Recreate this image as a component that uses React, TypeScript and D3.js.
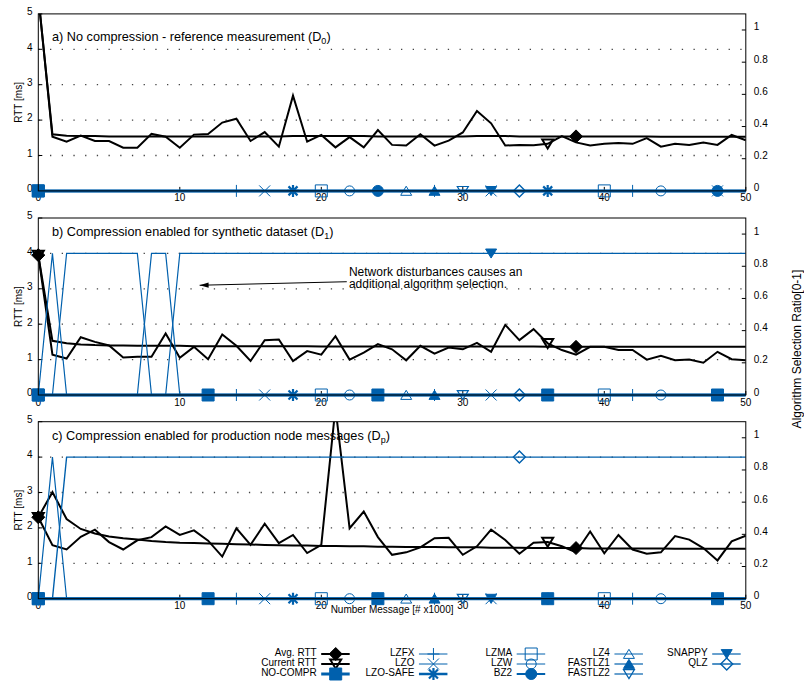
import React, { useEffect, useRef } from "react";
import * as d3 from "d3";

// x axis: number of messages (# x1000), one sample per 1000 messages
const messages = d3.range(0, 51);
const xTicks = [0, 10, 20, 30, 40, 50];
const rttTicks = [0, 1, 2, 3, 4, 5];
const rttGrid = [1, 2, 3, 4];
const ratioTicks = [0, 0.2, 0.4, 0.6, 0.8, 1];
const ratioTickLabels = ["0", "0.2", "0.4", "0.6", "0.8", "1"];

const panelTitles = [
  "a) No compression - reference measurement (D",
  "b) Compression enabled for synthetic dataset (D",
  "c) Compression enabled for production node messages (D",
];
const panelSubs = ["0", "1", "p"];

// RTT [ms], panel a (D0)
const currentRttA = [
  5.5, 1.53, 1.39, 1.56, 1.41, 1.41, 1.22, 1.22, 1.61, 1.53,
  1.22, 1.59, 1.61, 1.93, 2.04, 1.41, 1.66, 1.25, 2.69, 1.39,
  1.58, 1.23, 1.52, 1.23, 1.72, 1.30, 1.28, 1.60, 1.28, 1.42,
  1.65, 2.26, 1.91, 1.28, 1.30, 1.29, 1.33, 1.55, 1.37, 1.28,
  1.33, 1.35, 1.33, 1.49, 1.25, 1.33, 1.30, 1.37, 1.30, 1.58,
  1.43,
];
const avgRttA = [
  5.5, 1.60, 1.56, 1.55, 1.55, 1.54, 1.54, 1.54, 1.54, 1.54,
  1.54, 1.54, 1.54, 1.54, 1.54, 1.54, 1.54, 1.54, 1.55, 1.55,
  1.55, 1.55, 1.55, 1.55, 1.54, 1.54, 1.54, 1.54, 1.54, 1.54,
  1.54, 1.55, 1.55, 1.55, 1.54, 1.54, 1.54, 1.54, 1.54, 1.54,
  1.54, 1.54, 1.54, 1.54, 1.53, 1.53, 1.53, 1.53, 1.53, 1.53,
  1.53,
];

// panel b (D1)
const currentRttB = [
  3.95, 1.14, 1.03, 1.63, 1.50, 1.40, 1.06, 1.08, 1.08, 1.74,
  1.05, 1.36, 1.01, 1.71, 1.39, 0.96, 1.55, 1.57, 0.96, 1.24,
  1.14, 1.66, 1.00, 1.20, 1.44, 1.29, 0.98, 1.39, 1.17, 1.34,
  1.29, 1.47, 1.22, 1.98, 1.55, 1.86, 1.46, 1.27, 1.14, 1.36,
  1.36, 1.27, 1.27, 1.00, 1.11, 0.98, 1.00, 0.91, 1.22, 1.01,
  0.98,
];
const avgRttB = [
  3.95, 1.53, 1.46, 1.43, 1.41, 1.40, 1.40, 1.39, 1.39, 1.39,
  1.39, 1.38, 1.38, 1.38, 1.38, 1.38, 1.38, 1.38, 1.38, 1.38,
  1.37, 1.37, 1.37, 1.37, 1.37, 1.37, 1.37, 1.37, 1.37, 1.37,
  1.37, 1.37, 1.37, 1.37, 1.37, 1.37, 1.36, 1.36, 1.36, 1.36,
  1.36, 1.36, 1.36, 1.36, 1.36, 1.36, 1.36, 1.36, 1.36, 1.36,
  1.36,
];

// panel c (Dp)
const currentRttC = [
  2.30, 1.51, 1.39, 1.75, 1.95, 1.60, 1.39, 1.65, 1.74, 2.04,
  1.80, 1.93, 1.64, 1.19, 1.99, 1.52, 2.12, 1.57, 1.80, 1.29,
  1.52, 5.40, 1.99, 2.46, 1.74, 1.24, 1.31, 1.45, 1.71, 1.72,
  1.24, 1.48, 1.95, 1.66, 1.27, 1.58, 1.60, 1.48, 1.31, 1.90,
  1.28, 1.80, 1.39, 1.27, 1.31, 1.77, 1.67, 1.43, 1.08, 1.62,
  1.78,
];
const avgRttC = [
  2.30, 3.01, 2.25, 1.97, 1.84, 1.76, 1.71, 1.67, 1.63, 1.60,
  1.58, 1.57, 1.56, 1.55, 1.54, 1.53, 1.52, 1.51, 1.50, 1.50,
  1.49, 1.49, 1.48, 1.48, 1.47, 1.47, 1.46, 1.46, 1.46, 1.45,
  1.45, 1.45, 1.44, 1.44, 1.44, 1.43, 1.43, 1.43, 1.43, 1.42,
  1.42, 1.42, 1.42, 1.42, 1.42, 1.41, 1.41, 1.41, 1.41, 1.41,
  1.41,
];

// algorithm selection ratio (right axis)
const algoNames = ["NO-COMPR", "LZFX", "LZO", "LZO-SAFE", "LZMA", "LZW", "BZ2", "LZ4", "FASTLZ1", "FASTLZ2", "SNAPPY", "QLZ"];
const algoPoints = ["squareFilled", "plus", "cross", "star", "square", "circle", "circleFilled", "triangle", "triangleFilled", "triangleDown", "triangleDownFilled", "diamond"];
const algoIntervals = [12, 14, 16, 18, 20, 22, 24, 26, 28, 30, 32, 34];
const idleRatio = 0;

const snappyB = [
  0, 0, 0.88, 0.88, 0.88, 0.88, 0.88, 0.88, 0, 0,
  0.88, 0.88, 0.88, 0.88, 0.88, 0.88, 0.88, 0.88, 0.88, 0.88,
  0.88, 0.88, 0.88, 0.88, 0.88, 0.88, 0.88, 0.88, 0.88, 0.88,
  0.88, 0.88, 0.88, 0.88, 0.88, 0.88, 0.88, 0.88, 0.88, 0.88,
  0.88, 0.88, 0.88, 0.88, 0.88, 0.88, 0.88, 0.88, 0.88, 0.88,
  0.88,
];
const fastlz1B = [
  0, 0.88, 0, 0, 0, 0, 0, 0, 0.88, 0.88,
  0, 0, 0, 0, 0, 0, 0, 0, 0, 0,
  0, 0, 0, 0, 0, 0, 0, 0, 0, 0,
  0, 0, 0, 0, 0, 0, 0, 0, 0, 0,
  0, 0, 0, 0, 0, 0, 0, 0, 0, 0,
  0,
];
const qlzC = [
  0, 0, 0.88, 0.88, 0.88, 0.88, 0.88, 0.88, 0.88, 0.88,
  0.88, 0.88, 0.88, 0.88, 0.88, 0.88, 0.88, 0.88, 0.88, 0.88,
  0.88, 0.88, 0.88, 0.88, 0.88, 0.88, 0.88, 0.88, 0.88, 0.88,
  0.88, 0.88, 0.88, 0.88, 0.88, 0.88, 0.88, 0.88, 0.88, 0.88,
  0.88, 0.88, 0.88, 0.88, 0.88, 0.88, 0.88, 0.88, 0.88, 0.88,
  0.88,
];
const fastlz1C = [
  0, 0.88, 0, 0, 0, 0, 0, 0, 0, 0,
  0, 0, 0, 0, 0, 0, 0, 0, 0, 0,
  0, 0, 0, 0, 0, 0, 0, 0, 0, 0,
  0, 0, 0, 0, 0, 0, 0, 0, 0, 0,
  0, 0, 0, 0, 0, 0, 0, 0, 0, 0,
  0,
];

const legendLabels = ["Avg. RTT", "Current RTT", ...algoNames];

const annotationLines = ["Network disturbances causes an", "additional algorithm selection."];

const BLUE = "#0060ad";
const FONT = "'Liberation Sans', Arial, Helvetica, sans-serif";

const algoWidths = [3, 1, 1, 2.5, 1, 1, 2, 1, 1.2, 1.2, 1.2, 1.4];

function symbolPath(kind: string, s: number): string {
  if (kind === "plus") return `M${-s},0H${s}M0,${-s}V${s}`;
  if (kind === "cross") return `M${-s},${-s}L${s},${s}M${-s},${s}L${s},${-s}`;
  if (kind === "star") {
    const k = s * 0.75;
    return `M${-s},0H${s}M0,${-s}V${s}M${-k},${-k}L${k},${k}M${-k},${k}L${k},${-k}`;
  }
  if (kind.startsWith("square")) return `M${-s},${-s}H${s}V${s}H${-s}Z`;
  if (kind.startsWith("circle")) return `M${s},0A${s},${s} 0 1,1 ${-s},0A${s},${s} 0 1,1 ${s},0Z`;
  if (kind.startsWith("triangleDown")) return `M0,${s * 0.85}L${s},${-s * 0.8}L${-s},${-s * 0.8}Z`;
  if (kind.startsWith("triangle")) return `M0,${-s * 0.85}L${s},${s * 0.8}L${-s},${s * 0.8}Z`;
  return `M0,${-s}L${s},0L0,${s}L${-s},0Z`; // diamond
}

const symbolSize: Record<string, number> = {
  plus: 6, cross: 5.5, star: 6, square: 6, squareFilled: 6, circle: 5, circleFilled: 5.5,
  triangle: 5.5, triangleFilled: 5.5, triangleDown: 5.5, triangleDownFilled: 5.5,
  diamond: 6, diamondFilled: 6.5,
};

function drawSymbol(g: any, kind: string, cx: number, cy: number, color: string, width: number) {
  const filled = kind.endsWith("Filled");
  g.append("path")
    .attr("d", symbolPath(kind, symbolSize[kind]))
    .attr("transform", `translate(${cx},${cy})`)
    .attr("fill", filled ? color : "none")
    .attr("stroke", color)
    .attr("stroke-width", filled ? 1 : Math.min(width, 2.2));
}

export default function App() {
  const ref = useRef<SVGSVGElement>(null);

  useEffect(() => {
    const svg = d3.select(ref.current);
    svg.selectAll("*").remove();

    const left = 38.3, right = 745.8, ph = 177;
    const panelTops = [13.9, 218, 421.7];
    const titleOffsets = [27, 18, 18.5];

    const x = d3.scaleLinear().domain([0, 50]).range([left, right]);

    const panels = [
      { current: currentRttA, avg: avgRttA, ratios: {} as Record<string, number[]>, noComprInterval: 1000 },
      { current: currentRttB, avg: avgRttB, ratios: { SNAPPY: snappyB, FASTLZ1: fastlz1B } as Record<string, number[]>, noComprInterval: 12 },
      { current: currentRttC, avg: avgRttC, ratios: { QLZ: qlzC, FASTLZ1: fastlz1C } as Record<string, number[]>, noComprInterval: 12 },
    ];

    panels.forEach((p, pi) => {
      const top = panelTops[pi];
      const bottom = top + ph;
      const yL = d3.scaleLinear().domain([0, 5]).range([bottom, top]);
      const yR = d3.scaleLinear().domain([0, 1.1]).range([bottom, top]);
      const g = svg.append("g").attr("class", `panel_${pi}`);

      g.append("clipPath").attr("id", `clip_${pi}`)
        .append("rect")
        .attr("x", left).attr("y", top)
        .attr("width", right - left).attr("height", ph + 4);

      // dotted grid
      g.selectAll(".grid").data(rttGrid).join("line")
        .attr("class", "grid")
        .attr("x1", left).attr("x2", right)
        .attr("y1", d => yL(d)).attr("y2", d => yL(d))
        .attr("stroke", "#444").attr("stroke-width", 1.3)
        .attr("stroke-dasharray", "1.3 10.4");

      // ticks
      g.selectAll(".ltick").data(rttTicks).join("line")
        .attr("x1", left).attr("x2", left + 4)
        .attr("y1", d => yL(d)).attr("y2", d => yL(d))
        .attr("stroke", "#000");
      g.selectAll(".rtick").data(ratioTicks).join("line")
        .attr("x1", right - 4).attr("x2", right)
        .attr("y1", d => yR(d)).attr("y2", d => yR(d))
        .attr("stroke", "#000");
      g.selectAll(".xtick").data(xTicks).join("line")
        .attr("x1", d => x(d)).attr("x2", d => x(d))
        .attr("y1", bottom).attr("y2", bottom - 4)
        .attr("stroke", "#000");

      // tick labels
      g.selectAll(".xlabel").data(xTicks).join("text")
        .attr("x", d => x(d)).attr("y", bottom + 10.5)
        .attr("text-anchor", "middle")
        .attr("font-size", 10).attr("font-family", FONT)
        .text(d => d);
      g.selectAll(".llabel").data(rttTicks).join("text")
        .attr("x", left - 5.8).attr("y", d => yL(d) + 1.3)
        .attr("text-anchor", "end")
        .attr("font-size", 10).attr("font-family", FONT)
        .text(d => d);
      g.selectAll(".rlabel").data(ratioTicks).join("text")
        .attr("x", right + 8).attr("y", d => yR(d) + 0.5)
        .attr("font-size", 10).attr("font-family", FONT)
        .text((d, i) => ratioTickLabels[i]);

      g.append("text")
        .attr("transform", `translate(21.5, ${(top + bottom) / 2}) rotate(-90)`)
        .attr("text-anchor", "middle")
        .attr("font-size", 10).attr("font-family", FONT)
        .text("RTT [ms]");

      // panel title
      const title = g.append("text")
        .attr("x", 52).attr("y", top + titleOffsets[pi])
        .attr("font-size", 12.7).attr("font-family", FONT);
      title.append("tspan").text(panelTitles[pi]);
      title.append("tspan").attr("font-size", 9).attr("dy", 3).text(panelSubs[pi]);
      title.append("tspan").attr("dy", -3).text(")");

      const clipped = g.append("g").attr("clip-path", `url(#clip_${pi})`);
      const marks = g.append("g");

      const lineL = d3.line<number>().x((d, i) => x(messages[i])).y(d => yL(d));
      const lineR = d3.line<number>().x((d, i) => x(messages[i])).y(d => yR(d));

      const series = [
        { values: p.avg, line: lineL, y: yL, color: "#000", width: 2, point: "diamondFilled", interval: 38, domainMax: 5 },
        { values: p.current, line: lineL, y: yL, color: "#000", width: 2, point: "triangleDown", interval: 36, domainMax: 5 },
        ...algoNames.map((name, ai) => ({
          values: p.ratios[name] || messages.map(() => idleRatio),
          line: lineR, y: yR, color: BLUE, width: algoWidths[ai],
          point: algoPoints[ai],
          interval: name === "NO-COMPR" ? p.noComprInterval : algoIntervals[ai],
          domainMax: 1.1,
        })),
      ];

      series.forEach(s => {
        clipped.append("path")
          .datum(s.values)
          .attr("d", s.line)
          .attr("fill", "none")
          .attr("stroke", s.color)
          .attr("stroke-width", s.width)
          .attr("stroke-linejoin", "miter");
        s.values.forEach((v, i) => {
          if (i % s.interval !== 0 || v > s.domainMax) return;
          drawSymbol(marks, s.point, x(messages[i]), s.y(v), s.color, s.width);
        });
      });

      // border
      g.append("rect")
        .attr("x", left).attr("y", top)
        .attr("width", right - left).attr("height", ph)
        .attr("fill", "none").attr("stroke", "#000").attr("stroke-width", 1);

      // annotation in panel b
      if (pi === 1) {
        const tail = [21.8, 3.2], head = [11.4, 3.1];
        const x1 = x(tail[0]), y1 = yL(tail[1]), x2 = x(head[0]), y2 = yL(head[1]);
        const ang = Math.atan2(y2 - y1, x2 - x1);
        g.append("line")
          .attr("x1", x1).attr("y1", y1).attr("x2", x2).attr("y2", y2)
          .attr("stroke", "#000").attr("stroke-width", 1);
        const hl = 9, hw = 2.6;
        const bx = x2 - hl * Math.cos(ang), by = y2 - hl * Math.sin(ang);
        g.append("path")
          .attr("d", `M${x2},${y2}L${bx + hw * Math.sin(ang)},${by - hw * Math.cos(ang)}L${bx - hw * Math.sin(ang)},${by + hw * Math.cos(ang)}Z`)
          .attr("fill", "#000");
        g.selectAll(".annot").data(annotationLines).join("text")
          .attr("x", x(21.95))
          .attr("y", (d, i) => yL(3.37) + i * 12.4)
          .attr("font-size", 12).attr("font-family", FONT)
          .text(d => d);
      }
    });

    svg.append("text")
      .attr("x", (left + right) / 2).attr("y", 613)
      .attr("text-anchor", "middle")
      .attr("font-size", 10).attr("font-family", FONT)
      .text("Number Message [# x1000]");

    svg.append("text")
      .attr("transform", "translate(801, 349) rotate(-90)")
      .attr("text-anchor", "middle")
      .attr("font-size", 12).attr("font-family", FONT)
      .text("Algorithm Selection Ratio[0-1]");

    // legend
    const legendPoints = ["diamondFilled", "triangleDown", ...algoPoints];
    const legendColors = ["#000", "#000", ...algoNames.map(() => BLUE)];
    const legendWidths = [2, 2, ...algoWidths];
    const legend = svg.append("g").attr("class", "legend");
    legendLabels.forEach((label, i) => {
      const col = Math.floor(i / 3), row = i % 3;
      const rx = 316.7 + col * 97.75;
      const ly = 654 + row * 10;
      legend.append("text")
        .attr("x", rx).attr("y", ly + 2.2)
        .attr("text-anchor", "end")
        .attr("font-size", 10).attr("font-family", FONT)
        .text(label);
      legend.append("line")
        .attr("x1", rx + 4.5).attr("x2", rx + 33)
        .attr("y1", ly).attr("y2", ly)
        .attr("stroke", legendColors[i]).attr("stroke-width", legendWidths[i]);
      drawSymbol(legend, legendPoints[i], rx + 19, ly, legendColors[i], legendWidths[i]);
    });
  }, []);

  return (
    <svg
      ref={ref}
      width={804}
      height={686}
      style={{ position: "absolute", left: 0, top: 0, background: "#fff" }}
    />
  );
}
